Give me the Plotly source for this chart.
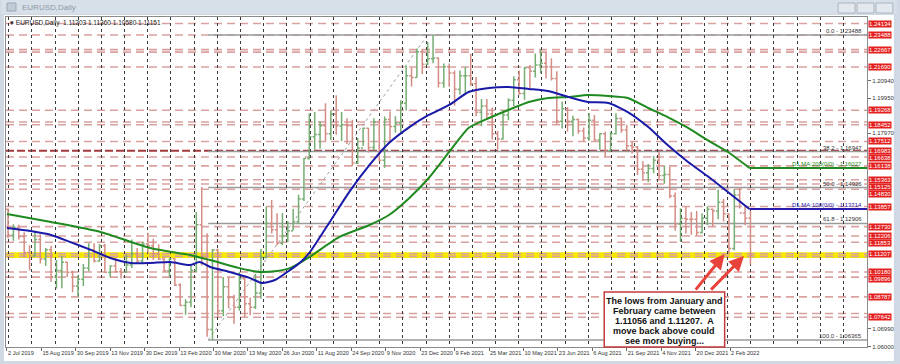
import plotly.graph_objects as go

# ---------------- data ----------------
week_open = [1.1370, 1.1225, 1.1270, 1.1218, 1.1127, 1.1108, 1.1201, 1.1091, 1.1143, 1.0990,
             1.1027, 1.1073, 1.1017, 1.0940, 1.0978, 1.1040, 1.1143, 1.1080, 1.1165, 1.1017,
             1.1052, 1.1020, 1.1017, 1.1058, 1.1120, 1.1080, 1.1175, 1.1165, 1.1120, 1.1091,
             1.1025, 1.1093, 1.0945, 1.0830, 1.0848, 1.1026, 1.1283, 1.1106, 1.0695, 1.1141,
             1.0800, 1.0935, 1.0875, 1.0820, 1.0980, 1.0840, 1.0820, 1.0900, 1.1100, 1.1290,
             1.1255, 1.1180, 1.1220, 1.1250, 1.1300, 1.1428, 1.1655, 1.1778, 1.1790, 1.1840,
             1.1795, 1.1905, 1.1838, 1.1845, 1.1840, 1.1630, 1.1715, 1.1825, 1.1717, 1.1860,
             1.1645, 1.1875, 1.1835, 1.1855, 1.1965, 1.2120, 1.2110, 1.2255, 1.2185, 1.2215,
             1.2220, 1.2080, 1.2170, 1.2135, 1.2045, 1.2120, 1.2120, 1.2075, 1.1915, 1.1950,
             1.1905, 1.1795, 1.1765, 1.1900, 1.1982, 1.2097, 1.2020, 1.2165, 1.2145, 1.2180,
             1.2190, 1.2170, 1.2105, 1.1865, 1.1935, 1.1865, 1.1875, 1.1810, 1.1770, 1.1870,
             1.1760, 1.1795, 1.1700, 1.1795, 1.1880, 1.1815, 1.1727, 1.1720, 1.1595, 1.1575,
             1.1600, 1.1645, 1.1560, 1.1565, 1.1445, 1.1287, 1.1318, 1.1315, 1.1315, 1.1240,
             1.1320, 1.1370, 1.1360, 1.1410, 1.1345, 1.1150, 1.1450, 1.1350, 1.1320]
week_high = [1.1375, 1.1286, 1.1283, 1.1241, 1.1169, 1.1250, 1.1230, 1.1153, 1.1165, 1.1085,
             1.1110, 1.1076, 1.1025, 1.0999, 1.1063, 1.1179, 1.1179, 1.1175, 1.1176, 1.1055,
             1.1097, 1.1040, 1.1117, 1.1200, 1.1153, 1.1187, 1.1239, 1.1205, 1.1173, 1.1101,
             1.1096, 1.1095, 1.0955, 1.0865, 1.1053, 1.1355, 1.1496, 1.1236, 1.1147, 1.1148,
             1.0990, 1.0991, 1.0890, 1.1019, 1.0990, 1.0875, 1.1008, 1.1147, 1.1384, 1.1422,
             1.1348, 1.1349, 1.1303, 1.1372, 1.1452, 1.1660, 1.1908, 1.1916, 1.1865, 1.1966,
             1.1925, 1.2011, 1.1917, 1.1882, 1.1873, 1.1770, 1.1830, 1.1828, 1.1881, 1.1870,
             1.1891, 1.1920, 1.1892, 1.1983, 1.2177, 1.2167, 1.2273, 1.2270, 1.2310, 1.2349,
             1.2222, 1.2189, 1.2189, 1.2150, 1.2150, 1.2169, 1.2243, 1.2113, 1.1990, 1.1990,
             1.1942, 1.1810, 1.1927, 1.1994, 1.2117, 1.2150, 1.2170, 1.2181, 1.2245, 1.2266,
             1.2254, 1.2218, 1.2145, 1.1975, 1.1944, 1.1895, 1.1880, 1.1830, 1.1909, 1.1900,
             1.1797, 1.1805, 1.1806, 1.1909, 1.1885, 1.1845, 1.1750, 1.1725, 1.1640, 1.1624,
             1.1670, 1.1692, 1.1616, 1.1609, 1.1464, 1.1374, 1.1383, 1.1355, 1.1360, 1.1348,
             1.1386, 1.1375, 1.1482, 1.1428, 1.1346, 1.1483, 1.1495, 1.1395, 1.1360]
week_low = [1.1207, 1.1193, 1.1200, 1.1101, 1.1027, 1.1105, 1.1066, 1.1052, 1.0964, 1.0926,
            1.0927, 1.0990, 1.0904, 1.0879, 1.0940, 1.1023, 1.1072, 1.1075, 1.1014, 1.0989,
            1.1014, 1.0981, 1.1016, 1.1040, 1.1065, 1.1070, 1.1126, 1.1085, 1.1086, 1.1019,
            1.0992, 1.0940, 1.0827, 1.0778, 1.0820, 1.1015, 1.1055, 1.0654, 1.0636, 1.0768,
            1.0770, 1.0813, 1.0727, 1.0800, 1.0766, 1.0775, 1.0810, 1.0870, 1.1095, 1.1235,
            1.1168, 1.1168, 1.1185, 1.1254, 1.1290, 1.1417, 1.1650, 1.1705, 1.1712, 1.1754,
            1.1760, 1.1789, 1.1753, 1.1737, 1.1612, 1.1625, 1.1725, 1.1689, 1.1703, 1.1640,
            1.1603, 1.1746, 1.1800, 1.1800, 1.1925, 1.2060, 1.2110, 1.2130, 1.2180, 1.2190,
            1.2054, 1.2053, 1.2058, 1.1952, 1.2013, 1.2023, 1.2063, 1.1893, 1.1836, 1.1874,
            1.1762, 1.1704, 1.1762, 1.1870, 1.1950, 1.2014, 1.1986, 1.2052, 1.2110, 1.2133,
            1.2104, 1.2093, 1.1847, 1.1824, 1.1807, 1.1781, 1.1795, 1.1752, 1.1755, 1.1755,
            1.1705, 1.1664, 1.1698, 1.1790, 1.1800, 1.1700, 1.1684, 1.1563, 1.1529, 1.1524,
            1.1572, 1.1535, 1.1513, 1.1432, 1.1250, 1.1186, 1.1235, 1.1227, 1.1222, 1.1235,
            1.1280, 1.1272, 1.1314, 1.1301, 1.1121, 1.1140, 1.1375, 1.1280, 1.1060]
week_close = [1.1225, 1.1270, 1.1218, 1.1127, 1.1108, 1.1201, 1.1091, 1.1143, 1.0990, 1.1027,
              1.1073, 1.1017, 1.0940, 1.0978, 1.1040, 1.1143, 1.1080, 1.1165, 1.1017, 1.1052,
              1.1020, 1.1017, 1.1058, 1.1120, 1.1080, 1.1175, 1.1165, 1.1120, 1.1091, 1.1025,
              1.1093, 1.0945, 1.0830, 1.0848, 1.1026, 1.1283, 1.1106, 1.0695, 1.1141, 1.0800,
              1.0935, 1.0875, 1.0820, 1.0980, 1.0840, 1.0820, 1.0900, 1.1100, 1.1290, 1.1255,
              1.1180, 1.1220, 1.1250, 1.1300, 1.1428, 1.1655, 1.1778, 1.1790, 1.1840, 1.1795,
              1.1905, 1.1838, 1.1845, 1.1840, 1.1630, 1.1715, 1.1825, 1.1717, 1.1860, 1.1645,
              1.1875, 1.1835, 1.1855, 1.1965, 1.2120, 1.2110, 1.2255, 1.2185, 1.2215, 1.2220,
              1.2080, 1.2170, 1.2135, 1.2045, 1.2120, 1.2120, 1.2075, 1.1915, 1.1950, 1.1905,
              1.1795, 1.1765, 1.1900, 1.1982, 1.2097, 1.2020, 1.2165, 1.2145, 1.2180, 1.2190,
              1.2170, 1.2105, 1.1865, 1.1935, 1.1865, 1.1875, 1.1810, 1.1770, 1.1870, 1.1760,
              1.1795, 1.1700, 1.1795, 1.1880, 1.1815, 1.1727, 1.1720, 1.1595, 1.1575, 1.1600,
              1.1645, 1.1560, 1.1565, 1.1445, 1.1287, 1.1318, 1.1315, 1.1315, 1.1240, 1.1320,
              1.1370, 1.1360, 1.1410, 1.1345, 1.1150, 1.1450, 1.1350, 1.1320, 1.1115]

date_labels = ["2 Jul 2019", "15 Aug 2019", "30 Sep 2019", "13 Nov 2019", "30 Dec 2019",
               "13 Feb 2020", "30 Mar 2020", "13 May 2020", "26 Jun 2020", "11 Aug 2020",
               "24 Sep 2020", "9 Nov 2020", "23 Dec 2020", "9 Feb 2021", "25 Mar 2021",
               "10 May 2021", "23 Jun 2021", "6 Aug 2021", "21 Sep 2021", "4 Nov 2021",
               "20 Dec 2021", "2 Feb 2022"]
date_bar_index = [0, 32, 64, 96, 128, 160, 192, 224, 256, 288, 320, 352, 384, 416, 448,
                  480, 512, 544, 576, 608, 640, 672]

ma100_idx = [0, 22, 41, 59, 78, 96, 115, 133, 152, 170, 179, 189, 207, 226, 237, 249, 263,
             272, 281, 300, 318, 337, 355, 374, 392, 411, 429, 448, 466, 485, 503, 522, 540,
             559, 577, 596, 614, 633, 651, 670, 690]
ma100_val = [1.1265, 1.1248, 1.1226, 1.1186, 1.1142, 1.1097, 1.1069, 1.1069, 1.1074, 1.1057,
             1.1074, 1.1046, 1.1018, 1.0984, 1.0956, 1.0973, 1.1029, 1.1069, 1.1125, 1.1299,
             1.1467, 1.1619, 1.1742, 1.1832, 1.1900, 1.1956, 1.2029, 1.2051, 1.2057, 1.2046,
             1.2034, 1.2001, 1.1973, 1.1967, 1.1916, 1.1832, 1.1731, 1.1636, 1.1557, 1.1467,
             1.13714]
ma200_idx = [0, 41, 87, 133, 170, 189, 216, 235, 251, 263, 281, 309, 337, 355, 374, 392, 411,
             429, 448, 466, 485, 503, 522, 540, 559, 577, 596, 614, 633, 651, 670, 690]
ma200_val = [1.1344, 1.1299, 1.1243, 1.1153, 1.1114, 1.1085, 1.1040, 1.1018, 1.1024, 1.1040,
             1.1102, 1.1215, 1.1282, 1.1338, 1.1434, 1.1546, 1.1692, 1.1827, 1.1883, 1.1928,
             1.1973, 1.1995, 1.2001, 1.2012, 1.2006, 1.1995, 1.1939, 1.1888, 1.1827, 1.1759,
             1.1692, 1.16027]
ma100_label = "D1 MA:100(0/0) - 1.13714"
ma200_label = "D1 MA:200(0/0) - 1.16027"

fib_pcts = ["0.0", "38.2", "50.0", "61.8", "100.0"]
fib_values = [1.23488, 1.16947, 1.14926, 1.12906, 1.06365]
fib_low_idx, fib_high_idx = 187, 391

level_values = [1.24134, 1.23488, 1.22667, 1.21690, 1.19268, 1.18452, 1.17512, 1.16983,
                1.16638, 1.16138, 1.15363, 1.15125, 1.14830, 1.13857, 1.12730, 1.12206,
                1.11853, 1.11207, 1.10180, 1.09896, 1.08787, 1.07642]
level_labels = ["1.24134", "1.23488", "1.22667", "1.21690", "1.19268", "1.18452", "1.17512",
                "1.16983", "1.16638", "1.16138", "1.15363", "1.15125", "1.14830", "1.13857",
                "1.12730", "1.12206", "1.11853", "1.11207", "1.10180", "1.09896", "1.08787",
                "1.07642"]
extra_dash_levels = [1.22530, 1.18600, 1.07850]
key_level = 1.16983
yellow_band = [1.11056, 1.11207]

price_ticks = [1.23940, 1.22950, 1.21960, 1.20940, 1.19950, 1.18960, 1.17970, 1.16980,
               1.15990, 1.15000, 1.14010, 1.12980, 1.11990, 1.11000, 1.10010, 1.08990,
               1.07980, 1.06990, 1.06000]

header_text = "\u25be EURUSD,Daily  1.11203 1.11360 1.10580 1.11151"
note_lines = ["The lows from January and", "February came between",
              "1.11056 and 1.11207.  A", "move back above could", "see more buying..."]
# arrow tails / heads (bar index, price)
arrow_tail = [(639, 1.0911), (653, 1.0911)]
arrow_head = [(667, 1.1119), (685, 1.1108)]

# ---------------- layout geometry ----------------
W, H = 900, 364
ML, MR, MT, MB = 5, 30, 17, 17
PW, PH = W - ML - MR, H - MT - MB
X0, X1 = -0.9, 799.3
Y0, Y1 = 1.0597, 1.2450


def fx(px):
    return (px - ML) / PW


def fy(py):
    return (H - MB - py) / PH


def price_to_px(p):
    return MT + (Y1 - p) / (Y1 - Y0) * PH


bar_x = [5 * k + 1 for k in range(len(week_close))]

FONT = "Liberation Sans, Arial, sans-serif"
DASH_RED = "#d9a2a0"

fig = go.Figure()

fig.add_trace(go.Ohlc(
    x=bar_x, open=week_open, high=week_high, low=week_low, close=week_close,
    increasing=dict(line=dict(color="#76ad72", width=1.5)),
    decreasing=dict(line=dict(color="#d48d85", width=1.5)),
    tickwidth=0.4, showlegend=False, hoverinfo="skip"))

fig.add_trace(go.Scatter(x=ma200_idx, y=ma200_val, mode="lines",
                         line=dict(color="#1f8a1f", width=2, shape="spline", smoothing=0.6),
                         showlegend=False, hoverinfo="skip"))
fig.add_trace(go.Scatter(x=ma100_idx, y=ma100_val, mode="lines",
                         line=dict(color="#1a1aa8", width=2, shape="spline", smoothing=0.6),
                         showlegend=False, hoverinfo="skip"))
fig.add_trace(go.Scatter(x=[ma200_idx[-1], X1], y=[ma200_val[-1], ma200_val[-1]], mode="lines",
                         line=dict(color="#1f8a1f", width=2), showlegend=False, hoverinfo="skip"))
fig.add_trace(go.Scatter(x=[ma100_idx[-1], X1], y=[ma100_val[-1], ma100_val[-1]], mode="lines",
                         line=dict(color="#2a1cae", width=2), showlegend=False, hoverinfo="skip"))

shapes = []
# window frame
shapes.append(dict(type="rect", xref="paper", yref="paper", x0=fx(3), x1=fx(897), y0=fy(361),
                   y1=fy(15), fillcolor="white", line=dict(width=0), layer="below"))
shapes.append(dict(type="rect", xref="paper", yref="paper", x0=fx(0), x1=fx(900), y0=fy(0),
                   y1=fy(14), fillcolor="#d7dfe9", line=dict(width=0), layer="below"))
shapes.append(dict(type="rect", xref="paper", yref="paper", x0=fx(6), x1=fx(15), y0=fy(11),
                   y1=fy(3), fillcolor="#c2ccd8", line=dict(color="#9aa7b6", width=1), layer="below"))
for bx0, bx1 in [(841, 858), (860, 877), (879, 896)]:
    shapes.append(dict(type="rect", xref="paper", yref="paper", x0=fx(bx0), x1=fx(bx1),
                       y0=fy(13), y1=fy(3), fillcolor="#e4e9ef",
                       line=dict(color="#a9b4c1", width=1), layer="below"))

# yellow band
for v in yellow_band:
    shapes.append(dict(type="line", xref="paper", yref="y", x0=0, x1=1, y0=v, y1=v,
                       line=dict(color="#f4e800", width=3), layer="below"))
# dashed horizontal levels
for v in level_values + extra_dash_levels + [yellow_band[0]]:
    if v == key_level:
        continue
    shapes.append(dict(type="line", xref="paper", yref="y", x0=0, x1=1, y0=v, y1=v,
                       line=dict(color=DASH_RED, width=1.6, dash="8px,5px"), layer="below"))
shapes.append(dict(type="line", xref="paper", yref="y", x0=0, x1=1, y0=key_level, y1=key_level,
                   line=dict(color="#a23a3a", width=2, dash="8px,3px"), layer="below"))
# fibonacci lines
for v in fib_values:
    shapes.append(dict(type="line", xref="x", yref="y", x0=fib_low_idx, x1=X1, y0=v, y1=v,
                       line=dict(color="#9b9b9b", width=1.5), layer="below"))
shapes.append(dict(type="line", xref="x", yref="y", x0=fib_low_idx, x1=fib_high_idx,
                   y0=fib_values[-1], y1=fib_values[0],
                   line=dict(color="#a0a0a0", width=1, dash="dot"), layer="below"))
# note box
shapes.append(dict(type="rect", xref="paper", yref="paper", x0=fx(606), x1=fx(727), y0=fy(347),
                   y1=fy(292), fillcolor="white", line=dict(color="#c23b3b", width=1.5),
                   layer="above"))

ann = []
ann.append(dict(xref="paper", yref="paper", x=fx(19), y=fy(7.5), xanchor="left", yanchor="middle",
                text="EURUSD,Daily", showarrow=False, font=dict(family=FONT, size=8, color="#8d98a6")))
ann.append(dict(xref="paper", yref="paper", x=fx(7), y=fy(23), xanchor="left", yanchor="middle",
                text=header_text, showarrow=False, font=dict(family=FONT, size=6.5, color="#222")))

# level label boxes: spread stacked boxes so they do not overlap
BOX_H = 7.2
order = sorted(range(len(level_values)), key=lambda i: price_to_px(level_values[i]))
placed = {}
prev = -100.0
for i in order:
    want = price_to_px(level_values[i])
    pos = max(want, prev + BOX_H)
    placed[i] = pos
    prev = pos
for i, (v, t) in enumerate(zip(level_values, level_labels)):
    ann.append(dict(xref="paper", yref="paper", x=1, xshift=1, y=fy(placed[i]),
                    xanchor="left", yanchor="middle", text=t, showarrow=False,
                    bgcolor="#e4201f", borderpad=0,
                    font=dict(family=FONT, size=6, color="white")))

# y tick labels hidden behind the red boxes are left out
box_px = list(placed.values())
visible_ticks = [v for v in price_ticks
                 if all(abs(price_to_px(v) - b) > 7.5 for b in box_px)]

# fib labels
for p, v in zip(fib_pcts, fib_values):
    ann.append(dict(xref="paper", yref="y", x=1, xshift=-3, y=v, yshift=4, xanchor="right",
                    yanchor="middle", text=f"{p} - {v:.5f}", showarrow=False,
                    font=dict(family=FONT, size=6, color="#333")))
ann.append(dict(xref="paper", yref="y", x=1, xshift=-3, y=ma200_val[-1], yshift=4,
                xanchor="right", yanchor="middle", text=ma200_label, showarrow=False,
                font=dict(family=FONT, size=6, color="#1f8a1f")))
ann.append(dict(xref="paper", yref="y", x=1, xshift=-3, y=ma100_val[-1], yshift=4,
                xanchor="right", yanchor="middle", text=ma100_label, showarrow=False,
                font=dict(family=FONT, size=6, color="#2a1cae")))
# note text
for j, line in enumerate(note_lines):
    ann.append(dict(xref="paper", yref="paper", x=fx(666.5), y=fy(301 + 10 * j), xanchor="center",
                    yanchor="middle", text=f"<b>{line}</b>", showarrow=False,
                    font=dict(family=FONT, size=9, color="#111")))
# arrows
for (tx, ty), (hx, hy) in zip(arrow_tail, arrow_head):
    ann.append(dict(xref="x", yref="y", axref="x", ayref="y", x=hx, y=hy, ax=tx, ay=ty,
                    text="", showarrow=True, arrowhead=2, arrowsize=1, arrowwidth=3,
                    arrowcolor="#e8433b", standoff=0))

fig.update_layout(
    width=W, height=H, margin=dict(l=ML, r=MR, t=MT, b=MB),
    paper_bgcolor="#cfd8e3", plot_bgcolor="white",
    shapes=shapes, annotations=ann, showlegend=False,
    xaxis=dict(range=[X0, X1], rangeslider=dict(visible=False), showgrid=False, zeroline=False,
               tickmode="array", tickvals=date_bar_index, ticktext=date_labels, tickangle=0,
               ticks="outside", ticklen=3, tickcolor="#666", ticklabelposition="outside right",
               tickfont=dict(family=FONT, size=5.6, color="#333"),
               showline=True, mirror=True, linecolor="#8a8a8a", linewidth=1,
               minor=dict(tickmode="linear", tick0=23.1, dtick=21.55, showgrid=True,
                          gridcolor="#3a3a3a", griddash="dot", gridwidth=1, ticklen=0)),
    yaxis=dict(range=[Y0, Y1], side="right", showgrid=False, zeroline=False,
               tickmode="array", tickvals=visible_ticks,
               ticktext=[f"{v:.5f}" for v in visible_ticks],
               ticks="outside", ticklen=3, tickcolor="#666",
               tickfont=dict(family=FONT, size=6, color="#333"),
               showline=True, mirror=True, linecolor="#8a8a8a", linewidth=1),
)

fig.write_html("out.html")
